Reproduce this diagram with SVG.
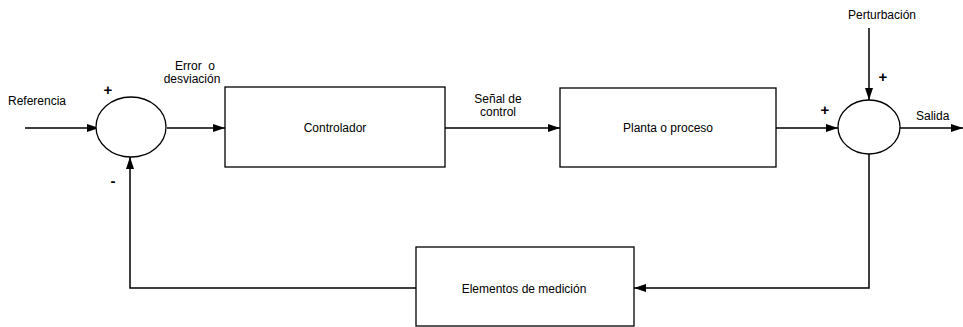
<svg xmlns="http://www.w3.org/2000/svg" width="963" height="327" viewBox="0 0 963 327">
<defs>
<style>
text{font-family:"Liberation Sans",Arial,sans-serif;font-size:12px;fill:#000}
.sign{font-size:15px;font-weight:bold}
.box{fill:#fff;stroke:#000;stroke-width:1.3}
.wire{fill:none;stroke:#000;stroke-width:1.5}
</style>
<marker id="ah" viewBox="0 0 12 8" refX="12" refY="4" markerWidth="12" markerHeight="8" markerUnits="userSpaceOnUse" orient="auto">
<path d="M0,0 L12,4 L0,8 Z" fill="#000"/>
</marker>
</defs>
<rect width="963" height="327" fill="#fff"/>
<g id="connectors">
<line class="wire" x1="25" y1="128" x2="99" y2="128" marker-end="url(#ah)"/>
<line class="wire" x1="167" y1="128" x2="225" y2="128" marker-end="url(#ah)"/>
<line class="wire" x1="445" y1="128" x2="560" y2="128" marker-end="url(#ah)"/>
<line class="wire" x1="776" y1="128" x2="838" y2="128" marker-end="url(#ah)"/>
<line class="wire" x1="869" y1="28" x2="869" y2="100" marker-end="url(#ah)"/>
<line class="wire" x1="900" y1="128" x2="963" y2="128" marker-end="url(#ah)"/>
<polyline class="wire" points="869,154 869,288 634,288" marker-end="url(#ah)"/>
<polyline class="wire" points="416,288 130,288 130,157" marker-end="url(#ah)"/>
</g>
<g id="sum1">
<ellipse cx="131" cy="127" rx="35" ry="30" fill="#fff" stroke="#000" stroke-width="1.3"/>
<text class="sign" x="108" y="95" text-anchor="middle">+</text>
<text class="sign" x="113" y="186" text-anchor="middle">-</text>
</g>
<g id="controlador">
<rect class="box" x="225" y="87" width="220" height="80"/>
<text x="335" y="132" text-anchor="middle">Controlador</text>
</g>
<g id="planta">
<rect class="box" x="560" y="88" width="216" height="79"/>
<text x="668" y="132" text-anchor="middle">Planta o proceso</text>
</g>
<g id="sum2">
<ellipse cx="869" cy="127" rx="31" ry="27" fill="#fff" stroke="#000" stroke-width="1.3"/>
<text class="sign" x="825" y="115" text-anchor="middle">+</text>
<text class="sign" x="883" y="82" text-anchor="middle">+</text>
</g>
<g id="medicion">
<rect class="box" x="416" y="247" width="218" height="79"/>
<text x="524" y="293" text-anchor="middle">Elementos de medición</text>
</g>
<g id="labels">
<text x="8" y="105">Referencia</text>
<text x="195" y="70" text-anchor="middle" xml:space="preserve">Error  o</text>
<text x="192" y="83" text-anchor="middle">desviación</text>
<text x="498" y="103" text-anchor="middle">Señal de</text>
<text x="498" y="116" text-anchor="middle">control</text>
<text x="882" y="19" text-anchor="middle">Perturbación</text>
<text x="916" y="120">Salida</text>
</g>
</svg>
